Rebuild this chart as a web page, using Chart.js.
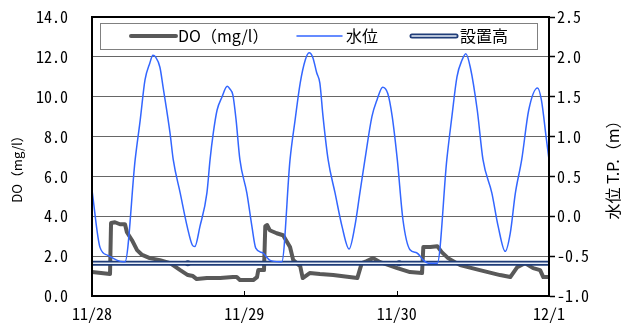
<!DOCTYPE html>
<html lang="ja">
<head>
    <meta charset="UTF-8">
    <title>DO / 水位</title>
    <script src="https://cdn.jsdelivr.net/npm/chart.js"></script>
    <style>
        body { margin: 0; background: #fff; }
        #chart { display: block; }
    </style>
</head>
<body>
    <canvas id="chart" width="624" height="325"></canvas>
    <script>
        // x axis: hours from 11/28 00:00
        const xTickLabels = ['11/28', '11/29', '11/30', '12/1'];

        // 水位 T.P. (m) - right axis
        const levelHours = [0, 1.26, 2.5, 3.9, 4.9, 5.2, 6.8, 7.6, 8.35, 9.1, 9.6, 10.0, 10.7, 11.2, 12.3, 12.8,
            13.9, 15.0, 15.8, 16.2, 17.0, 18.1, 18.6, 19.1, 19.7, 20.5, 21.3, 21.7, 22.2, 22.7, 23.3,
            24.4, 25.2, 25.8, 26.9, 28.0, 29.6, 29.9, 31.2, 32.0, 32.8, 33.6, 34.2, 34.8, 35.4, 35.9, 36.4, 37.2,
            38.3, 39.4, 40.5, 41.4, 42.2, 43.0, 44.1, 44.9, 45.8, 46.6, 47.3, 48.1,
            49.0, 50.1, 51.2, 52.2, 53.0, 54.4, 55.9, 56.7, 57.5, 58.3, 58.9, 59.6, 60.7, 61.6,
            63.0, 64.0, 65.1, 65.9, 66.7, 67.7, 68.8, 70.2, 70.8, 71.6, 72];
        const levelValues = [0.33, -0.39, -0.49, -0.55, -0.57, -0.57, 0.71, 1.21, 1.71, 1.92, 2.02, 2.0, 1.87, 1.62, 1.04, 0.71,
            0.29, -0.13, -0.36, -0.38, -0.13, 0.29, 0.71, 1.04, 1.33, 1.5, 1.63, 1.6, 1.52, 1.21, 0.71,
            0.29, -0.13, -0.4, -0.46, -0.55, -0.57, -0.57, 0.71, 1.21, 1.67, 1.96, 2.05, 1.99, 1.8, 1.67, 1.25, 0.71,
            0.29, -0.13, -0.41, -0.13, 0.29, 0.71, 1.25, 1.46, 1.62, 1.54, 1.25, 0.71,
            -0.05, -0.42, -0.46, -0.55, -0.59, -0.59, 0.71, 1.25, 1.75, 1.96, 2.04, 1.87, 1.33, 0.71,
            0.29, -0.13, -0.44, -0.21, 0.29, 0.71, 1.33, 1.61, 1.46, 0.96, 0.71];

        // DO (mg/l) - left axis
        const doHours = [0, 2.84, 3.0, 3.62, 4.41, 5.2, 5.5, 6.3, 7.1, 7.9, 9.1, 10.7, 12.3, 13.9, 15.1, 15.9, 16.5,
            18.1, 20.2, 22.2, 22.8, 23.3, 25.4, 26.0, 26.2, 27.1, 27.3, 27.6, 28.0, 29.1, 30.1, 31.2, 31.7, 32.8,
            33.2, 34.3, 35.9, 38.0, 41.8, 42.5, 43.3, 44.3, 45.4, 48.1, 50.1, 52.0, 52.2, 53.3, 54.4, 55.1, 56.1,
            58.0, 61.1, 64.3, 65.9, 67.0, 68.2, 69.5, 70.6, 71.1, 72];
        const doValues = [1.2, 1.1, 3.66, 3.7, 3.6, 3.6, 3.2, 2.8, 2.3, 2.06, 1.9, 1.8, 1.65, 1.3, 1.05, 1.0, 0.85,
            0.9, 0.9, 0.95, 0.95, 0.8, 0.8, 0.95, 1.3, 1.3, 3.5, 3.56, 3.3, 3.15, 3.05, 2.46, 1.8, 1.5,
            0.9, 1.15, 1.1, 1.05, 0.9, 1.65, 1.75, 1.9, 1.7, 1.4, 1.2, 1.15, 2.46, 2.46, 2.5, 2.2, 1.9,
            1.55, 1.3, 1.05, 0.95, 1.45, 1.65, 1.4, 1.3, 0.95, 0.95];

        // 設置高 (m) - right axis
        const sensorHours = [0, 15.1, 48.4, 72];
        const sensorHeight = [-0.59, -0.59, -0.59, -0.59];

        const labelFont = "'Noto Sans Mono CJK JP', 'Noto Sans CJK JP', 'DejaVu Sans Mono', monospace";
        const cjkFont = "'Noto Sans CJK JP', sans-serif";

        const toPoints = (xs, ys) => xs.map((x, i) => ({ x: x, y: ys[i] }));
        const lastSensor = sensorHours.length - 1;

        // frame, inner x ticks, titles and boxed legend
        const decorations = {
            id: 'decorations',
            afterDatasetsDraw(chart) {
                const ctx = chart.ctx;
                const a = chart.chartArea;
                const xs = chart.scales.x;
                ctx.save();

                // inner tick marks on bottom axis
                ctx.strokeStyle = '#000';
                ctx.lineWidth = 1;
                for (let i = 1; i < xTickLabels.length - 1; i++) {
                    const px = Math.round(xs.getPixelForValue(i * 24)) + 0.5;
                    ctx.beginPath();
                    ctx.moveTo(px, a.bottom);
                    ctx.lineTo(px, a.bottom - 5);
                    ctx.stroke();
                }

                // plot frame
                ctx.lineWidth = 2;
                ctx.strokeRect(a.left, a.top, a.right - a.left, a.bottom - a.top);

                // legend box
                const lx = 100, ly = 23, lw = 437, lh = 26;
                ctx.fillStyle = '#fff';
                ctx.fillRect(lx, ly, lw, lh);
                ctx.strokeStyle = '#808080';
                ctx.lineWidth = 1;
                ctx.strokeRect(lx + 0.5, ly + 0.5, lw, lh);
                const cy = ly + lh / 2;
                ctx.lineCap = 'round';

                ctx.strokeStyle = '#595959';
                ctx.lineWidth = 4;
                ctx.beginPath(); ctx.moveTo(131, cy); ctx.lineTo(176, cy); ctx.stroke();

                ctx.strokeStyle = '#3366ff';
                ctx.lineWidth = 1.5;
                ctx.beginPath(); ctx.moveTo(297, cy); ctx.lineTo(342, cy); ctx.stroke();

                ctx.strokeStyle = '#1f3c78';
                ctx.lineWidth = 5;
                ctx.beginPath(); ctx.moveTo(412, cy); ctx.lineTo(456, cy); ctx.stroke();
                ctx.strokeStyle = '#e8eef8';
                ctx.lineWidth = 1.5;
                ctx.beginPath(); ctx.moveTo(412, cy); ctx.lineTo(456, cy); ctx.stroke();

                ctx.fillStyle = '#000';
                ctx.font = '16px ' + cjkFont;
                ctx.textBaseline = 'middle';
                ctx.textAlign = 'left';
                ctx.fillText('DO（mg/l）', 178, cy);
                ctx.fillText('水位', 346, cy);
                ctx.fillText('設置高', 460, cy);

                // axis titles (both read bottom to top)
                ctx.textAlign = 'center';
                ctx.font = '13px ' + cjkFont;
                ctx.translate(17, 166);
                ctx.rotate(-Math.PI / 2);
                ctx.fillText('DO（mg/l）', 0, 0);
                ctx.setTransform(1, 0, 0, 1, 0, 0);
                ctx.font = '16px ' + cjkFont;
                ctx.translate(613, 166);
                ctx.rotate(-Math.PI / 2);
                ctx.fillText('水位 T.P.（m）', 0, 0);

                ctx.restore();
            }
        };

        new Chart(document.getElementById('chart'), {
            type: 'line',
            data: {
                datasets: [
                    {
                        label: '水位',
                        data: toPoints(levelHours, levelValues),
                        yAxisID: 'y2',
                        borderColor: '#3366ff',
                        borderWidth: 1.5,
                        pointRadius: 0,
                        cubicInterpolationMode: 'monotone',
                        order: 0
                    },
                    {
                        label: '設置高 inner',
                        data: toPoints(sensorHours, sensorHeight),
                        yAxisID: 'y2',
                        borderColor: '#e8eef8',
                        borderWidth: 1.5,
                        pointRadius: 0,
                        order: 1
                    },
                    {
                        label: '設置高',
                        data: toPoints(sensorHours, sensorHeight),
                        yAxisID: 'y2',
                        borderColor: '#1f3c78',
                        borderWidth: 5,
                        pointRadius: ctx => (ctx.dataIndex === 0 || ctx.dataIndex === lastSensor) ? 0 : 3,
                        pointBackgroundColor: '#1f3c78',
                        pointBorderColor: '#1f3c78',
                        pointBorderWidth: 0,
                        order: 2
                    },
                    {
                        label: 'DO（mg/l）',
                        data: toPoints(doHours, doValues),
                        yAxisID: 'y',
                        borderColor: '#595959',
                        borderWidth: 4,
                        pointRadius: 0,
                        borderJoinStyle: 'round',
                        order: 3
                    }
                ]
            },
            options: {
                responsive: false,
                animation: false,
                devicePixelRatio: 1,
                layout: { padding: { top: 17, left: 0, right: 0, bottom: 0 } },
                plugins: {
                    legend: { display: false },
                    tooltip: { enabled: false }
                },
                scales: {
                    x: {
                        type: 'linear',
                        min: 0,
                        max: 72,
                        afterFit: s => { s.height = 29; },
                        afterBuildTicks: s => { s.ticks = xTickLabels.map((t, i) => ({ value: i * 24 })); },
                        ticks: {
                            callback: v => xTickLabels[Math.round(v / 24)],
                            color: '#000',
                            font: { family: labelFont, size: 16 },
                            padding: 8,
                            maxRotation: 0,
                            autoSkip: false
                        },
                        grid: { display: false, drawTicks: false },
                        border: { display: true, color: '#000', width: 2 }
                    },
                    y: {
                        position: 'left',
                        min: 0,
                        max: 14,
                        afterFit: s => { s.width = 92; },
                        ticks: {
                            stepSize: 2,
                            callback: v => v.toFixed(1),
                            color: '#000',
                            font: { family: labelFont, size: 16 },
                            padding: 0
                        },
                        grid: { color: '#666', lineWidth: 1, drawTicks: true, tickLength: 24, tickColor: 'rgba(0,0,0,0)' },
                        border: { display: true, color: '#000', width: 2 }
                    },
                    y2: {
                        position: 'right',
                        min: -1,
                        max: 2.5,
                        afterFit: s => { s.width = 75; },
                        ticks: {
                            stepSize: 0.5,
                            callback: v => v.toFixed(1),
                            color: '#000',
                            font: { family: labelFont, size: 16 },
                            padding: 2
                        },
                        grid: { drawOnChartArea: false, drawTicks: true, tickLength: 6, tickColor: '#000', tickWidth: 1.5 },
                        border: { display: true, color: '#000', width: 2 }
                    }
                }
            },
            plugins: [decorations]
        });
    </script>
</body>
</html>
